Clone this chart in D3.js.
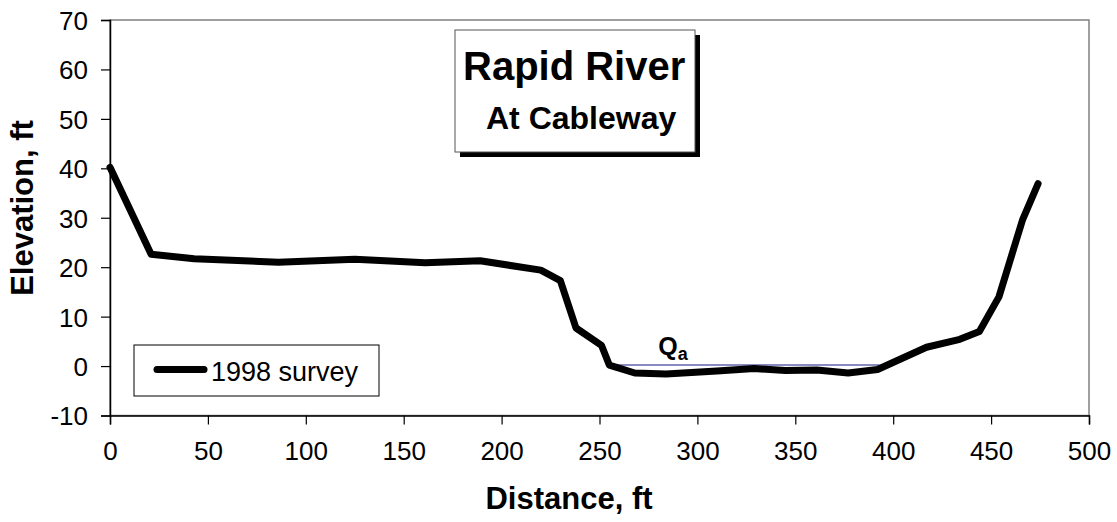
<!DOCTYPE html>
<html>
<head>
<meta charset="utf-8">
<script src="https://d3js.org/d3.v7.min.js"></script>
<style>
  body { margin: 0; background: #fff; }
  svg { display: block; font-family: "Liberation Sans", Arial, sans-serif; }
</style>
</head>
<body>
<svg width="1117" height="522"></svg>
<script>
// survey cross-section
var distance = [0, 21, 43, 86, 125, 161, 189, 220, 230, 238, 251, 255, 268, 284, 310, 329, 345, 361, 377, 392, 417, 434, 444, 454, 466, 474];
var elevation = [40.2, 22.6, 21.7, 21.0, 21.6, 20.9, 21.3, 19.4, 17.3, 7.7, 4.2, 0.2, -1.4, -1.6, -1.0, -0.5, -0.9, -0.8, -1.4, -0.7, 3.8, 5.4, 7.0, 14.0, 29.5, 36.9];

// water surface (Qa)
var qaDistance = [255, 393];
var qaElevation = [0.2, 0.2];

var xTicks = [0, 50, 100, 150, 200, 250, 300, 350, 400, 450, 500];
var yTicks = [-10, 0, 10, 20, 30, 40, 50, 60, 70];

var svg = d3.select("svg");
var plotLeft = 110, plotRight = 1089, plotTop = 20, plotBottom = 415.5;

var x = d3.scaleLinear().domain([0, 500]).range([plotLeft, plotRight]);
var y = d3.scaleLinear().domain([-10, 70]).range([plotBottom, plotTop]);

// plot area border (grey)
svg.append("rect")
    .attr("x", plotLeft).attr("y", plotTop)
    .attr("width", plotRight - plotLeft).attr("height", plotBottom - plotTop)
    .attr("fill", "none")
    .attr("stroke", "#808080")
    .attr("stroke-width", 1.5);

// axes (plain hyphen for negatives, like the original)
var fmt = function(d) { return String(d); };
var xAxis = d3.axisBottom(x).tickValues(xTicks).tickFormat(fmt).tickSize(9).tickPadding(17);
var yAxis = d3.axisLeft(y).tickValues(yTicks).tickFormat(fmt).tickSize(9).tickPadding(13);

var gx = svg.append("g").attr("transform", "translate(0," + plotBottom + ")").call(xAxis);
var gy = svg.append("g").attr("transform", "translate(" + plotLeft + ",0)").call(yAxis);

[gx, gy].forEach(function(g) {
    g.select(".domain").attr("stroke", "#000").attr("stroke-width", 1.5);
    g.selectAll(".tick line").attr("stroke", "#000").attr("stroke-width", 1.2);
    g.selectAll(".tick text")
        .attr("fill", "#000")
        .style("font-size", "26px")
        .style("font-family", "'Liberation Sans', Arial, sans-serif");
});
gy.selectAll(".tick text").attr("dy", "0.36em");

// axis titles
svg.append("text")
    .attr("x", 569).attr("y", 509)
    .attr("text-anchor", "middle")
    .style("font-size", "31px").style("font-weight", "bold")
    .text("Distance, ft");

svg.append("text")
    .attr("transform", "translate(33,208) rotate(-90)")
    .attr("text-anchor", "middle")
    .style("font-size", "31px").style("font-weight", "bold")
    .text("Elevation, ft");

// water line
var qaPts = qaDistance.map(function(d, i) { return [d, qaElevation[i]]; });
svg.append("path")
    .datum(qaPts)
    .attr("fill", "none")
    .attr("stroke", "#6464aa")
    .attr("stroke-width", 1.5)
    .attr("d", d3.line().x(function(d) { return x(d[0]); }).y(function(d) { return y(d[1]); }));

var qa = svg.append("text")
    .attr("x", x(280)).attr("y", y(2.2))
    .style("font-size", "25px").style("font-weight", "bold");
qa.append("tspan").text("Q");
qa.append("tspan").attr("dy", 5).style("font-size", "18px").text("a");

// survey line
var pts = distance.map(function(d, i) { return [d, elevation[i]]; });
svg.append("path")
    .datum(pts)
    .attr("fill", "none")
    .attr("stroke", "#000")
    .attr("stroke-width", 7)
    .attr("stroke-linejoin", "round")
    .attr("stroke-linecap", "round")
    .attr("d", d3.line().x(function(d) { return x(d[0]); }).y(function(d) { return y(d[1]); }));

// legend
svg.append("rect")
    .attr("x", 134).attr("y", 345).attr("width", 245).attr("height", 51)
    .attr("fill", "#fff").attr("stroke", "#000").attr("stroke-width", 1);
svg.append("line")
    .attr("x1", 157).attr("x2", 204).attr("y1", 369.5).attr("y2", 369.5)
    .attr("stroke", "#000").attr("stroke-width", 7).attr("stroke-linecap", "round");
svg.append("text")
    .attr("x", 211).attr("y", 381)
    .style("font-size", "27px")
    .text("1998 survey");

// title box with shadow
svg.append("rect")
    .attr("x", 460).attr("y", 35).attr("width", 240).attr("height", 122)
    .attr("fill", "#000");
svg.append("rect")
    .attr("x", 455).attr("y", 30).attr("width", 240).attr("height", 122)
    .attr("fill", "#fff").attr("stroke", "#555").attr("stroke-width", 1);
svg.append("text")
    .attr("x", 463).attr("y", 80)
    .style("font-size", "40px").style("font-weight", "bold")
    .text("Rapid River");
svg.append("text")
    .attr("x", 486).attr("y", 129)
    .style("font-size", "32px").style("font-weight", "bold")
    .text("At Cableway");
</script>
</body>
</html>
